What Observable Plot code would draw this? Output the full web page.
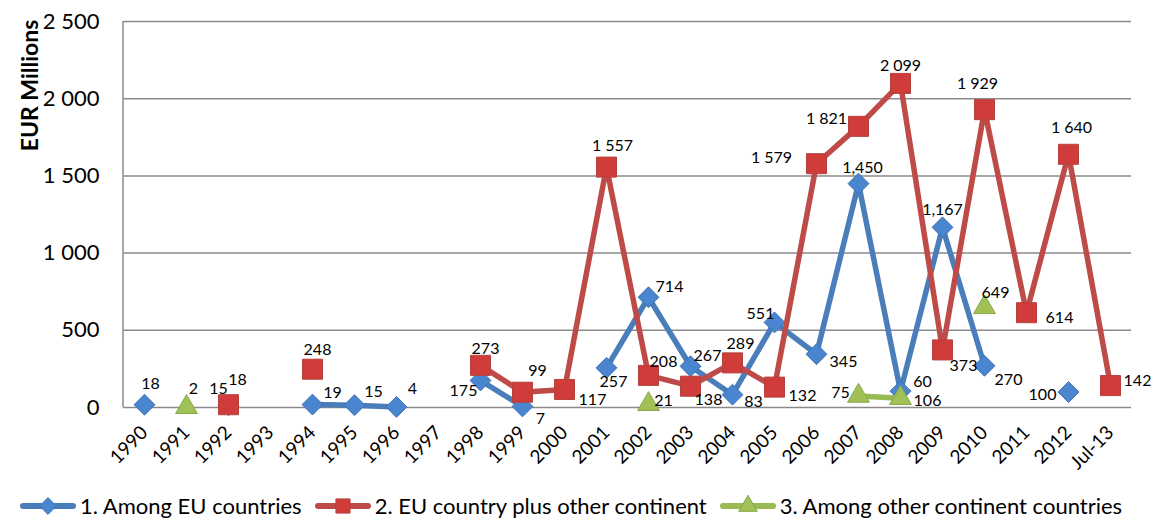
<!DOCTYPE html>
<html>
<head>
<meta charset="utf-8">
<script src="https://cdn.jsdelivr.net/npm/d3@7"></script>
<script src="https://cdn.jsdelivr.net/npm/@observablehq/plot@0.6"></script>
<style>
  html, body { margin: 0; padding: 0; background: #fff; }
  body { width: 1157px; height: 519px; overflow: hidden; font-family: Lato, "Open Sans", sans-serif; }
  #legend { display: flex; align-items: center; height: 39px; padding-top: 6px; padding-left: 20px; font-size: 22px; color: #000; }
  .item { display: flex; align-items: center; margin-right: 13px; }
  .item svg { margin-right: 4px; }
</style>
</head>
<body>
<div id="chart"></div>
<div id="legend"></div>
<script>
// ---- data ----
const categories = ["1990","1991","1992","1993","1994","1995","1996","1997","1998","1999","2000","2001","2002","2003","2004","2005","2006","2007","2008","2009","2010","2011","2012","Jul-13"];
const euValues    = [18, null, 15, null, 19, 15, 4, null, 175, 7, null, 257, 714, 267, 83, 551, 345, 1450, 106, 1167, 270, null, 100, null];
const mixedValues = [null, null, 18, null, 248, null, null, null, 273, 99, 117, 1557, 208, 138, 289, 132, 1579, 1821, 2099, 373, 1929, 614, 1640, 142];
const otherValues = [null, 2, null, null, null, null, null, null, null, null, null, null, 21, null, null, null, null, 75, 60, null, 649, null, null, null];
const seriesNames = ["1. Among EU countries", "2. EU country plus other continent", "3. Among other continent countries"];
const yTicks = [0, 500, 1000, 1500, 2000, 2500];

// ---- label placement (pixel offsets from each point) ----
const euOffsets = {"1990":[6,-21],"1992":[-10,-16],"1994":[20,-12],"1995":[19,-13],"1996":[16,-18],"1998":[-17,10],"1999":[18,12],"2001":[7,14],"2002":[21,-10],"2003":[17,-10],"2004":[21,7],"2005":[-14,-9],"2006":[27,8],"2007":[4,-16],"2008":[27,10],"2009":[0,-17],"2010":[24,14],"2012":[-26,3]};
const mixedOffsets = {"1992":[9,-25],"1994":[5,-19],"1998":[5,-16],"1999":[15,-21],"2000":[28,10],"2001":[6,-21],"2002":[15,-14],"2003":[18,14],"2004":[8,-19],"2005":[28,9],"2006":[-45,-6],"2007":[-32,-7],"2008":[0,-18],"2009":[21,16],"2010":[-7,-26],"2011":[33,5],"2012":[3,-26],"Jul-13":[27,-5]};
const otherOffsets = {"1991":[7,-18],"2002":[15,-3],"2007":[-18,-3],"2008":[22,-16],"2010":[11,-14]};

const fmtComma = d3.format(",");
const fmtSpace = v => d3.format(",")(v).replace(/,/g, " ");

function rows(values) {
  return categories.map((c, i) => ({cat: c, v: values[i]}));
}
const euRows = rows(euValues), mixedRows = rows(mixedValues), otherRows = rows(otherValues);

const styles = [
  {rows: euRows, line: "#4a7ebb", fill: "#4a86cf", stroke: "#3f72b0", symbol: "diamond2", r: 9.4, offsets: euOffsets, fmt: fmtComma},
  {rows: mixedRows, line: "#be4b48", fill: "#cf3c39", stroke: "#b5413e", symbol: "square", r: 11.3, offsets: mixedOffsets, fmt: fmtSpace},
  {rows: otherRows, line: "#98b954", fill: "#9fc155", stroke: "#8aa84a", symbol: "triangle", r: 8.1, offsets: otherOffsets, fmt: fmtSpace}
];

const marks = [
  Plot.gridY(yTicks, {stroke: "#8a8a8a", strokeOpacity: 1, strokeWidth: 1.5}),
  (index, scales, values, dims) => {
    const l = document.createElementNS("http://www.w3.org/2000/svg", "line");
    l.setAttribute("x1", dims.marginLeft); l.setAttribute("x2", dims.marginLeft);
    l.setAttribute("y1", dims.marginTop); l.setAttribute("y2", dims.height - dims.marginBottom);
    l.setAttribute("stroke", "#8a8a8a"); l.setAttribute("stroke-width", 1.5);
    return l;
  },
  Plot.axisY({ticks: yTicks, tickSize: 0, tickPadding: 24, fontSize: 22, tickFormat: fmtSpace, label: null}),
  Plot.axisX({tickSize: 0, tickRotate: -45, tickPadding: 22, fontSize: 19, label: null}),
  Plot.text(["EUR Millions"], {frameAnchor: "top-left", dx: -102, dy: 64, rotate: -90, textAnchor: "middle", fontSize: 23, fontWeight: "bold", fill: "#000"})
];

for (const s of styles) {
  marks.push(Plot.line(s.rows, {x: "cat", y: "v", stroke: s.line, strokeWidth: 5.5, strokeLinejoin: "round"}));
  const pts = s.rows.filter(d => d.v != null);
  marks.push(Plot.dot(pts, {x: "cat", y: "v", symbol: s.symbol, r: s.r, fill: s.fill, stroke: s.stroke, strokeWidth: 1}));
}
for (const s of styles) {
  for (const d of s.rows.filter(d => d.v != null)) {
    const off = s.offsets[d.cat] || [0, -16];
    marks.push(Plot.text([d], {x: "cat", y: "v", text: dd => s.fmt(dd.v), dx: off[0], dy: off[1], fontSize: 16, fill: "#000"}));
  }
}

const chart = Plot.plot({
  width: 1157,
  height: 480,
  marginLeft: 123,
  marginRight: 26,
  marginTop: 21,
  marginBottom: 73,
  style: {fontFamily: "Lato, 'Open Sans', sans-serif", color: "#000", background: "#fff", overflow: "visible"},
  x: {type: "point", domain: categories, padding: 0.5},
  y: {domain: [0, 2500]},
  marks
});
document.getElementById("chart").appendChild(chart);

// ---- legend ----
const legend = document.getElementById("legend");
styles.forEach((s, i) => {
  const item = document.createElement("div");
  item.className = "item";
  const sym = d3.symbol().type(s.symbol === "diamond2" ? d3.symbolDiamond2 : s.symbol === "square" ? d3.symbolSquare : d3.symbolTriangle)
    .size(s.symbol === "diamond2" ? 180 : s.symbol === "square" ? 200 : 150)();
  item.innerHTML = `<svg width="56" height="24"><line x1="3" x2="53" y1="12" y2="12" stroke="${s.line}" stroke-width="6" stroke-linecap="round"/><path d="${sym}" transform="translate(28,12)" fill="${s.fill}" stroke="${s.stroke}"/></svg><span>${seriesNames[i]}</span>`;
  legend.appendChild(item);
});
</script>
</body>
</html>
